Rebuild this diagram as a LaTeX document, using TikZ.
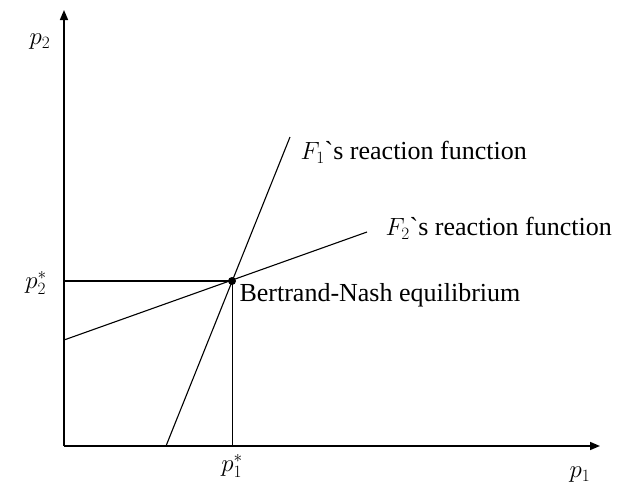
\documentclass[tikz,border=0pt]{standalone}
\usepackage{fontspec}
\setmainfont{Liberation Serif}
\usetikzlibrary{arrows.meta}
\begin{document}
\begin{tikzpicture}[x=1pt,y=-1pt,font=\fontsize{26}{30}\selectfont,
    axis/.style={line width=1.6pt,-{Triangle[length=10pt,width=8pt]}},
    curve/.style={line width=1.1pt}]

    % Canvas
    \useasboundingbox (0,0) rectangle (629,496);

    % Points
    \coordinate (O) at (64,446);
    \coordinate (E) at (232,281);

    % Axes
    \draw[axis] (O) -- (64,10);
    \draw[axis] (O) -- (600,446);
    \node (ptwo) at (40,42) {$p_2$};
    \node (pone) at (580,475) {$p_1$};

    % Reaction functions
    \draw[curve] (166,446) coordinate (Fa) -- (290,137) coordinate (Fb);
    \draw[curve] (64,340) coordinate (Ga) -- (367,232) coordinate (Gb);
    \node[right] (Fone) at (297,152) {$F_1$\textasciigrave s reaction function};
    \node[right] (Ftwo) at (382,228) {$F_2$\textasciigrave s reaction function};

    % Equilibrium
    \draw[line width=1.3pt] (64,281) -- (E);
    \draw[line width=0.6pt] (E) -- (232,446);
    \fill (E) circle (4pt);
    \node[right] (BN) at (236,295) {Bertrand-Nash equilibrium};
    \node (ptwostar) at (36,283) {$p_2^*$};
    \node (ponestar) at (232,466) {$p_1^*$};

\end{tikzpicture}
\end{document}
